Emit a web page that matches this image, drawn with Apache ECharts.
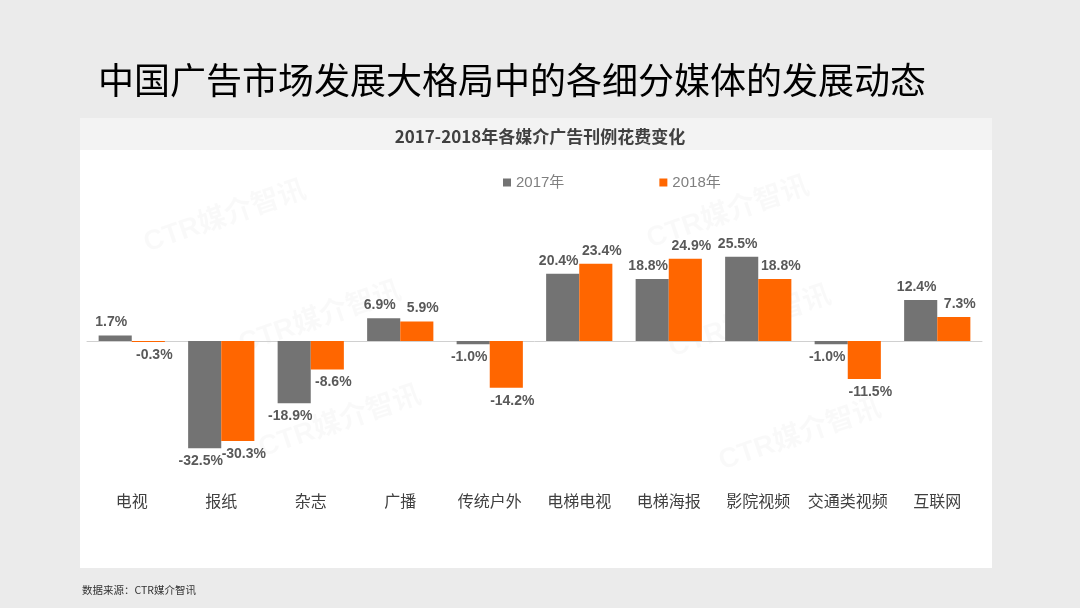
<!DOCTYPE html>
<html><head><meta charset="utf-8">
<script src="https://cdn.jsdelivr.net/npm/echarts@6/dist/echarts.min.js"></script>
<style>html,body{margin:0;padding:0;background:#ebebeb}#c{width:1080px;height:608px}</style>
</head><body><div id="c"></div>
<script>
const categories = ['电视','报纸','杂志','广播','传统户外','电梯电视','电梯海报','影院视频','交通类视频','互联网'];
const values2017 = [1.7,-32.5,-18.9,6.9,-1.0,20.4,18.8,25.5,-1.0,12.4];
const values2018 = [-0.3,-30.3,-8.6,5.9,-14.2,23.4,24.9,18.8,-11.5,7.3];
const seriesNames = ['2017年','2018年'];
const pageTitle = '中国广告市场发展大格局中的各细分媒体的发展动态';
const chartTitle = '2017-2018年各媒介广告刊例花费变化';
const sourceText = '数据来源：CTR媒介智讯';
const watermarkText = 'CTR媒介智讯';

const numFont = "'Liberation Sans', Arial, 'Noto Sans CJK SC', sans-serif";
const cjkFont = "'Noto Sans CJK SC', sans-serif";

function toData(arr) {
  return arr.map(v => ({ value: v, label: { position: v < 0 ? 'bottom' : 'top' } }));
}
function labelStyle(dx) {
  return {
    show: true,
    distance: 6,
    offset: [dx, 0],
    fontSize: 14,
    fontWeight: 'bold',
    color: '#595959',
    fontFamily: numFont,
    formatter: p => p.value.toFixed(1) + '%'
  };
}
function watermark(x, y) {
  return { type: 'text', z: -5, x: x, y: y, rotation: 0.33,
    style: { text: watermarkText, fill: 'rgba(0,0,0,0.025)', font: "bold 28px 'Liberation Sans','Noto Sans CJK SC',sans-serif",
      textAlign: 'center', textVerticalAlign: 'middle' } };
}

const chart = echarts.init(document.getElementById('c'));
chart.setOption({
  backgroundColor: '#ebebeb',
  animation: false,
  graphic: [
    { type: 'rect', z: -10, shape: { x: 80, y: 118, width: 912, height: 32 }, style: { fill: '#f3f3f3' } },
    { type: 'rect', z: -10, shape: { x: 80, y: 150, width: 912, height: 418 }, style: { fill: '#ffffff' } },
    watermark(225, 217), watermark(320, 318), watermark(728, 213),
    watermark(750, 322), watermark(340, 422), watermark(800, 435)
  ],
  title: [
    { text: pageTitle, left: 93, top: 57, textStyle: { fontSize: 36, fontWeight: 'normal', color: '#000', fontFamily: cjkFont } },
    { text: chartTitle, left: 'center', top: 123, textStyle: { fontSize: 17, fontWeight: 'bold', color: '#404040', fontFamily: cjkFont } },
    { text: sourceText, left: 77, top: 580, textStyle: { fontSize: 10.5, fontWeight: 'normal', color: '#333', fontFamily: cjkFont } }
  ],
  legend: {
    data: seriesNames,
    left: 498, top: 170,
    icon: 'rect', itemWidth: 8, itemHeight: 8, itemGap: 95,
    textStyle: { fontSize: 15, color: '#7f7f7f', fontFamily: numFont }
  },
  grid: { left: 87, right: 98, top: 209, bottom: 135 },
  xAxis: [
    { type: 'category', data: categories, position: 'bottom',
      axisLine: { onZero: true, lineStyle: { color: '#d0d0d0', width: 1 } },
      axisTick: { show: false }, axisLabel: { show: false } },
    { type: 'category', data: categories, position: 'bottom',
      axisLine: { show: false, onZero: false }, axisTick: { show: false },
      axisLabel: { interval: 0, margin: 20, fontSize: 16, color: '#404040', fontFamily: cjkFont } }
  ],
  yAxis: { type: 'value', min: -40, max: 40, show: false },
  series: [
    { name: seriesNames[0], type: 'bar', xAxisIndex: 0, data: toData(values2017),
      itemStyle: { color: '#737373' }, barGap: '0%', barCategoryGap: '26%', label: labelStyle(-4) },
    { name: seriesNames[1], type: 'bar', xAxisIndex: 0, data: toData(values2018),
      itemStyle: { color: '#ff6600' }, barGap: '0%', barCategoryGap: '26%', label: labelStyle(6) }
  ]
});
</script>
</body></html>
